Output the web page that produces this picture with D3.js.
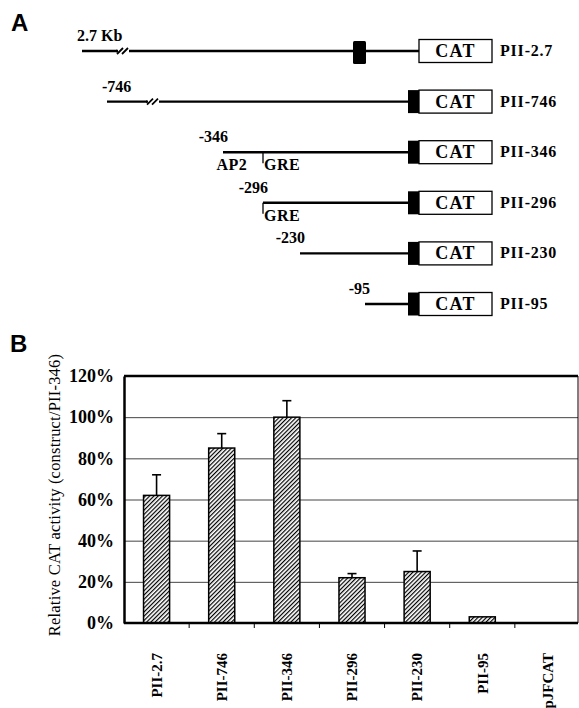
<!DOCTYPE html>
<html lang="en">
<head>
<meta charset="UTF-8">
<title>CAT constructs and relative CAT activity</title>
<style>
  body { margin: 0; padding: 0; background: #fff; }
  svg { display: block; }
  text { font-family: "Liberation Serif", "Times New Roman", serif; fill: #000; }
  .panel-label { font-family: "Liberation Sans", Arial, sans-serif; font-size: 24px; font-weight: bold; }
</style>
</head>
<body>
<div id="chart"></div>
<script src="https://d3js.org/d3.v7.min.js"></script>
<script>
// ---- Panel A data: promoter constructs ----
const constructs = ["PII-2.7", "PII-746", "PII-346", "PII-296", "PII-230", "PII-95"];
const startLabels = ["2.7 Kb", "-746", "-346", "-296", "-230", "-95"];
const startBp = [-2700, -746, -346, -296, -230, -95];
const hasBreak = [true, true, false, false, false, false];
const siteRows = ["PII-346", "PII-346", "PII-296"];
const siteNames = ["AP2", "GRE", "GRE"];
const siteBp = [-335, -296, -296];
const siteTick = [false, true, true];

// ---- Panel B data: relative CAT activity (% of PII-346) ----
const categories = ["PII-2.7", "PII-746", "PII-346", "PII-296", "PII-230", "PII-95", "pJFCAT"];
const activity = [62, 85, 100, 22, 25, 3, 0];
const errorUp = [10, 7, 8, 2, 10, 0, 0];
const yTicks = [0, 20, 40, 60, 80, 100, 120];

const width = 579, height = 708;

const svg = d3.select("#chart").append("svg")
  .attr("width", width)
  .attr("height", height);

// hatch fill for the bars
const defs = svg.append("defs");
const pat = defs.append("pattern")
  .attr("id", "hatch")
  .attr("patternUnits", "userSpaceOnUse")
  .attr("width", 3)
  .attr("height", 3)
  .attr("patternTransform", "rotate(45)");
pat.append("rect").attr("width", 3).attr("height", 3).attr("fill", "#fff");
pat.append("line")
  .attr("x1", 0.6).attr("y1", 0).attr("x2", 0.6).attr("y2", 3)
  .attr("stroke", "#000").attr("stroke-width", 1.2);

// ================= Panel A =================
svg.append("text").attr("class", "panel-label")
  .attr("x", 11).attr("y", 31).text("A");

const gA = svg.append("g");

// schematic promoter axis (not to scale in the drawing, hence piecewise)
const promoterX = d3.scaleLinear()
  .domain([-2700, -746, -346, -296, -230, -95, 0])
  .range([82, 107, 223, 263, 300, 365, 408]);
const rowY = d3.scalePoint().domain(constructs).range([51, 304]);

const blockW = 11, boxW = 73, boxH = 23;
const boxLeft = promoterX(0) + blockW;

const rows = constructs.map((c, i) => ({
  name: c, label: startLabels[i], bp: startBp[i], brk: hasBreak[i], idx: i
}));

const row = gA.selectAll(".row").data(rows).join("g")
  .attr("class", "row")
  .attr("transform", d => `translate(0,${rowY(d.name)})`);

// promoter line
row.append("line")
  .attr("x1", d => promoterX(d.bp))
  .attr("x2", boxLeft)
  .attr("y1", 0).attr("y2", 0)
  .attr("stroke", "#000").attr("stroke-width", 2.4);

// break marks "//"
row.filter(d => d.brk).each(function(d) {
  const bx = promoterX(d.bp) + (d.idx === 0 ? 41 : 46);
  const g = d3.select(this);
  g.append("rect").attr("x", bx - 6).attr("y", -3).attr("width", 12).attr("height", 6).attr("fill", "#fff");
  [-3, 2].forEach(o => {
    g.append("line")
      .attr("x1", bx + o - 3).attr("y1", 3)
      .attr("x2", bx + o + 3).attr("y2", -3)
      .attr("stroke", "#000").attr("stroke-width", 1.8);
  });
  g.append("line").attr("x1", bx - 7).attr("x2", bx - 5).attr("y1", 0).attr("y2", 0)
    .attr("stroke", "#000").attr("stroke-width", 2.4);
});

// black block: upstream for PII-2.7, adjacent to CAT for the others
row.append("rect")
  .attr("x", d => d.idx === 0 ? boxLeft - 66 : promoterX(0))
  .attr("y", d => d.idx === 0 ? -10 : -boxH / 2)
  .attr("width", d => d.idx === 0 ? 13 : blockW)
  .attr("height", d => d.idx === 0 ? 23 : boxH)
  .attr("rx", d => d.idx === 0 ? 1.5 : 0)
  .attr("fill", "#000");

// CAT box
row.append("rect")
  .attr("x", boxLeft).attr("y", -boxH / 2)
  .attr("width", boxW).attr("height", boxH)
  .attr("fill", "#fff").attr("stroke", "#000").attr("stroke-width", 1.3);
row.append("text")
  .attr("x", boxLeft + boxW / 2).attr("y", 6)
  .attr("text-anchor", "middle")
  .attr("font-size", 18).attr("font-weight", "bold").attr("letter-spacing", 1.2)
  .text("CAT");

// construct name
row.append("text")
  .attr("x", boxLeft + boxW + 8).attr("y", 5)
  .attr("font-size", 16).attr("font-weight", "bold").attr("letter-spacing", 0.8)
  .text(d => d.name);

// start position label
row.append("text")
  .attr("x", d => d.brk ? promoterX(d.bp) - 5 : promoterX(d.bp) + 5)
  .attr("y", -10)
  .attr("text-anchor", d => d.brk ? "start" : "end")
  .attr("font-size", 16).attr("font-weight", "bold")
  .text(d => d.label);

// regulatory sites
const sites = siteNames.map((s, i) => ({ row: siteRows[i], name: s, bp: siteBp[i], tick: siteTick[i] }));
sites.forEach(s => {
  const y0 = rowY(s.row), sx = promoterX(s.bp);
  if (s.tick) {
    gA.append("line")
      .attr("x1", sx).attr("x2", sx)
      .attr("y1", y0).attr("y2", y0 + 11)
      .attr("stroke", "#000").attr("stroke-width", 1.3);
  }
  gA.append("text")
    .attr("x", s.tick ? sx + 1 : sx)
    .attr("y", y0 + 18)
    .attr("text-anchor", s.tick ? "start" : "middle")
    .attr("font-size", 16).attr("font-weight", "bold").attr("letter-spacing", 0.5)
    .text(s.name);
});

// ================= Panel B =================
svg.append("text").attr("class", "panel-label")
  .attr("x", 10).attr("y", 352).text("B");

const plot = { left: 124, right: 578, top: 376, bottom: 623 };

const x = d3.scaleBand()
  .domain(categories)
  .range([plot.left, plot.right + 2])
  .paddingInner(0.6)
  .paddingOuter(0.3);

const y = d3.scaleLinear().domain([0, 120]).range([plot.bottom, plot.top]);

const gB = svg.append("g");

// gridlines
gB.append("g")
  .attr("transform", `translate(${plot.left},0)`)
  .call(d3.axisLeft(y).tickValues(yTicks.slice(1, -1)).tickSize(-(plot.right - plot.left)).tickFormat(""))
  .call(g => g.select(".domain").remove())
  .call(g => g.selectAll(".tick line").attr("stroke", "#444").attr("stroke-width", 1));

// frame
gB.append("line").attr("x1", plot.left).attr("x2", plot.right)
  .attr("y1", plot.top).attr("y2", plot.top)
  .attr("stroke", "#000").attr("stroke-width", 2.5);
gB.append("line").attr("x1", plot.right).attr("x2", plot.right)
  .attr("y1", plot.top).attr("y2", plot.bottom)
  .attr("stroke", "#000").attr("stroke-width", 1);

// bars
const barData = categories.map((c, i) => ({ c, v: activity[i], e: errorUp[i] }));
gB.selectAll(".bar").data(barData)
  .join("rect")
  .attr("class", "bar")
  .attr("x", d => x(d.c))
  .attr("width", x.bandwidth())
  .attr("y", d => y(d.v))
  .attr("height", d => y(0) - y(d.v))
  .attr("fill", "url(#hatch)")
  .attr("stroke", d => d.v > 0 ? "#000" : "none")
  .attr("stroke-width", 1.5);

// error bars (upper only)
const errs = barData.filter(d => d.e > 0);
gB.selectAll(".err").data(errs).join("line")
  .attr("class", "err")
  .attr("x1", d => x(d.c) + x.bandwidth() / 2)
  .attr("x2", d => x(d.c) + x.bandwidth() / 2)
  .attr("y1", d => y(d.v))
  .attr("y2", d => y(d.v + d.e))
  .attr("stroke", "#000").attr("stroke-width", 1.6);
gB.selectAll(".cap").data(errs).join("line")
  .attr("class", "cap")
  .attr("x1", d => x(d.c) + x.bandwidth() / 2 - 4.5)
  .attr("x2", d => x(d.c) + x.bandwidth() / 2 + 4.5)
  .attr("y1", d => y(d.v + d.e))
  .attr("y2", d => y(d.v + d.e))
  .attr("stroke", "#000").attr("stroke-width", 1.6);

// y axis
gB.append("g")
  .attr("transform", `translate(${plot.left},0)`)
  .call(d3.axisLeft(y).tickValues(yTicks).tickFormat(d => d + "%").tickSize(0).tickPadding(10))
  .call(g => g.select(".domain").attr("stroke", "#000").attr("stroke-width", 2.5))
  .call(g => g.selectAll("text")
    .attr("font-family", "'Liberation Serif', serif")
    .attr("font-size", 18).attr("font-weight", "bold").attr("fill", "#000"));

// x axis: ticks between categories
const xBoundaries = categories.slice(1).map(c => x(c) - x.step() * x.paddingInner() / 2);
gB.selectAll(".xtick").data(xBoundaries).join("line")
  .attr("class", "xtick")
  .attr("x1", d => d).attr("x2", d => d)
  .attr("y1", plot.bottom).attr("y2", plot.bottom + 5)
  .attr("stroke", "#000").attr("stroke-width", 1);
gB.append("line").attr("x1", plot.left).attr("x2", plot.right)
  .attr("y1", plot.bottom).attr("y2", plot.bottom)
  .attr("stroke", "#000").attr("stroke-width", 2.5);

gB.selectAll(".xlabel").data(categories).join("text")
  .attr("class", "xlabel")
  .attr("transform", d => `translate(${x(d) + x.bandwidth() / 2},653) rotate(-90)`)
  .attr("dy", "0.35em")
  .attr("text-anchor", "end")
  .attr("font-size", 15).attr("font-weight", "bold")
  .text(d => d);

// y title
svg.append("text")
  .attr("transform", "translate(54,495) rotate(-90)")
  .attr("dy", "0.35em")
  .attr("text-anchor", "middle")
  .attr("font-size", 16.5)
  .attr("letter-spacing", 0.2)
  .text("Relative CAT activity (construct/PII-346)");
</script>
</body>
</html>
